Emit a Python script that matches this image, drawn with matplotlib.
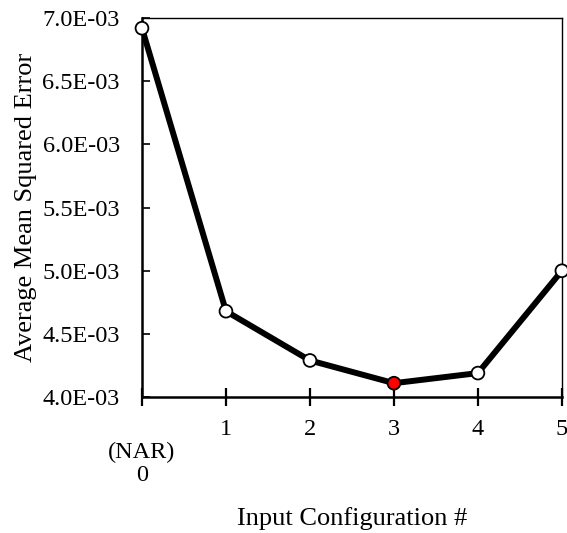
import matplotlib.pyplot as plt
from matplotlib.ticker import FuncFormatter

plt.rcParams['font.family'] = ['Liberation Serif', 'DejaVu Serif']

config = [0, 1, 2, 3, 4, 5]
mse = [6.92e-3, 4.68e-3, 4.29e-3, 4.11e-3, 4.19e-3, 5.00e-3]
best = 3
tick_labels = ['\n(NAR)\n0', '1', '2', '3', '4', '5']
y_ticks = [4.0e-3, 4.5e-3, 5.0e-3, 5.5e-3, 6.0e-3, 6.5e-3, 7.0e-3]

fig = plt.figure(figsize=(5.67, 5.33), dpi=100)
ax = fig.add_axes([0.2504, 0.255, 0.7406, 0.711])

ax.plot(config, mse, color='black', lw=4.3, zorder=2, solid_capstyle='round')
face = ['red' if c == best else 'white' for c in config]
ax.scatter(config, mse, s=85, c=face, edgecolors='black', linewidths=1.3,
           zorder=3, clip_on=False)

ax.set_xlim(0, 5)
ax.set_ylim(4.0e-3, 7.0e-3)
ax.set_xticks(config)
ax.set_xticklabels(tick_labels)
for lab in ax.get_xticklabels():
    lab.set_linespacing(1.12)
ax.set_yticks(y_ticks)
ax.yaxis.set_major_formatter(FuncFormatter(lambda v, p: f'{v:.1E}'))

for s in ['left', 'bottom']:
    ax.spines[s].set_linewidth(1.8)
for s in ['top', 'right']:
    ax.spines[s].set_linewidth(1.0)

ax.tick_params(axis='x', direction='inout', length=13, width=1.6,
               labelsize=17.5, pad=9)
ax.tick_params(axis='y', direction='in', length=6, width=1.2,
               labelsize=17.5, pad=16)

ax.set_xlabel('Input Configuration #', fontsize=19)
ax.set_ylabel('Average Mean Squared Error', fontsize=19)
ax.xaxis.set_label_coords(0.5, -0.29)
ax.yaxis.set_label_coords(-0.25, 0.5)

fig.savefig('out.png', dpi=100)
